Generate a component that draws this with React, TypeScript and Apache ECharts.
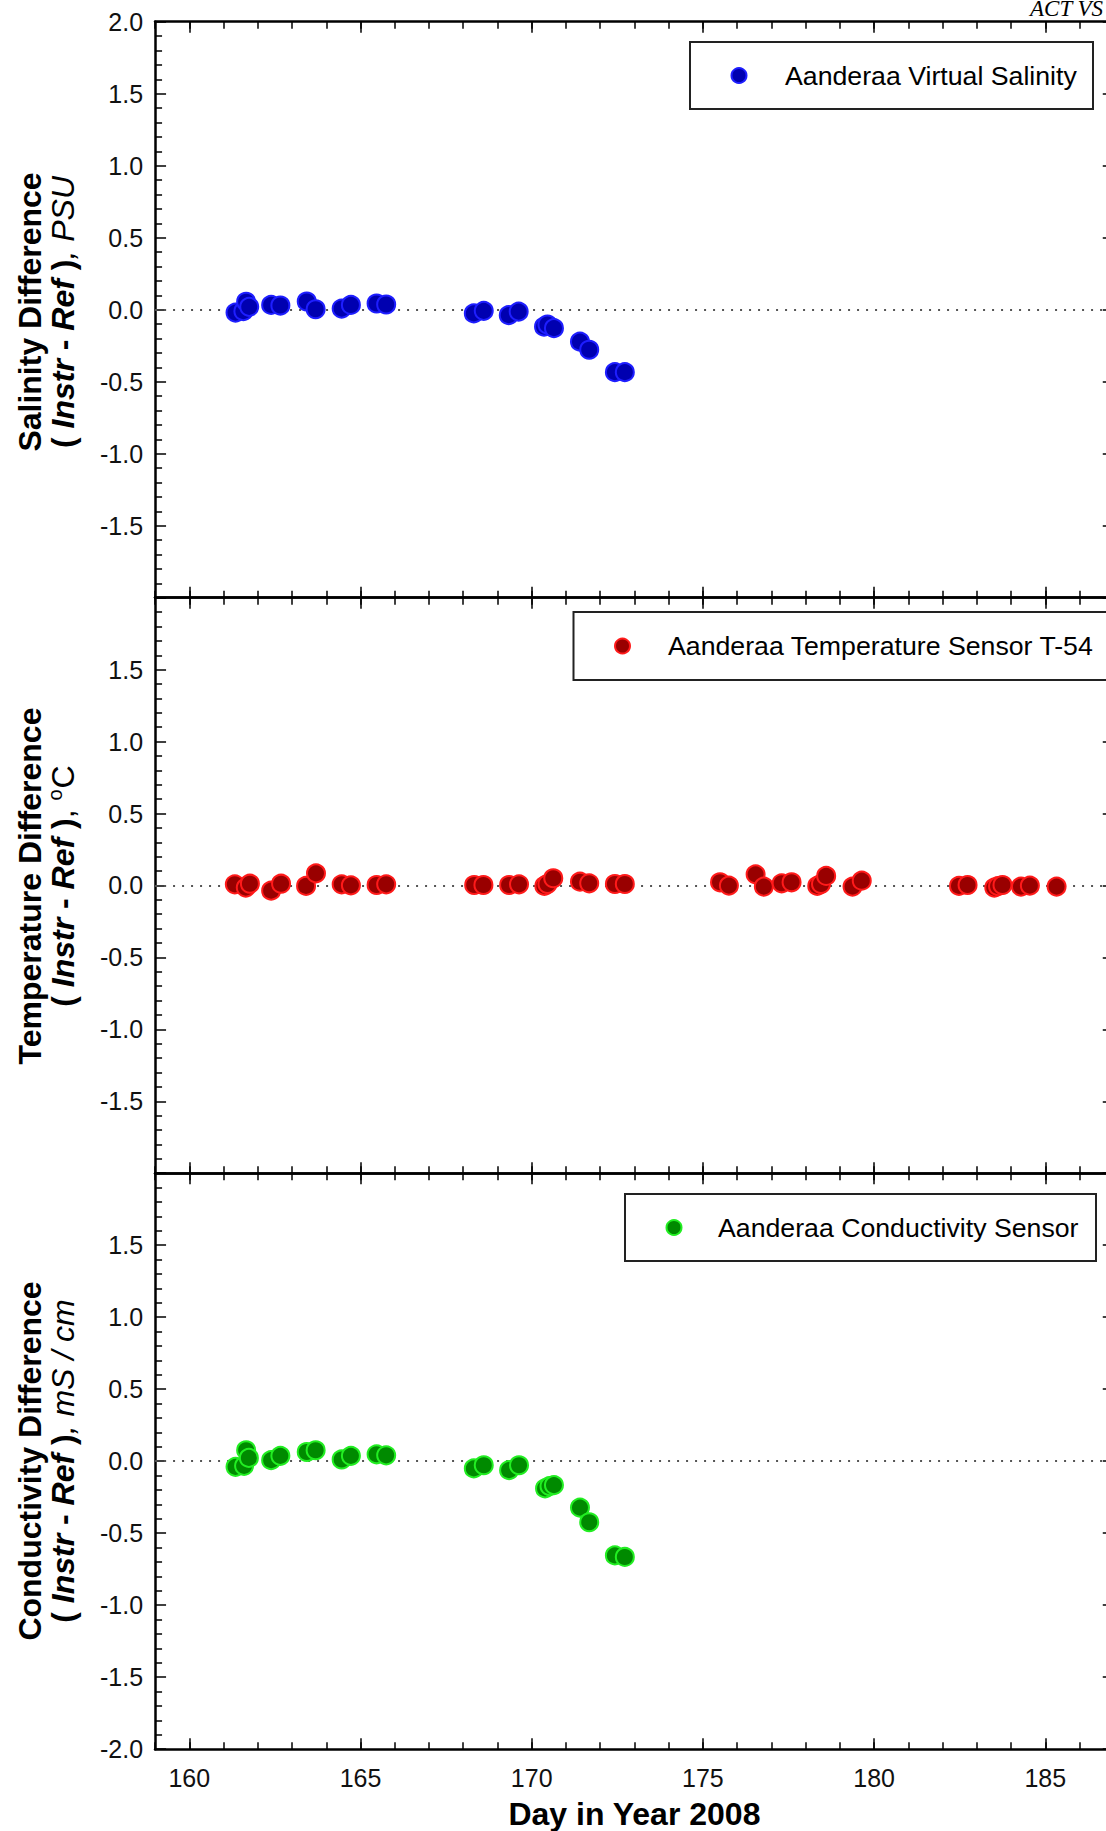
import React, { useEffect, useRef } from "react";
import * as echarts from "echarts";

// ---- data ----
const dayMin = 159;
const dayMax = 187;
const majorDays = [160, 165, 170, 175, 180, 185];
const yLabelsSal = [2.0, 1.5, 1.0, 0.5, 0.0, -0.5, -1.0, -1.5];
const yLabelsTemp = [1.5, 1.0, 0.5, 0.0, -0.5, -1.0, -1.5];
const yLabelsCond = [1.5, 1.0, 0.5, 0.0, -0.5, -1.0, -1.5, -2.0];

const salName = "Aanderaa Virtual Salinity";
const salDays = [161.35, 161.58, 161.66, 161.75, 162.39, 162.66, 163.43, 163.69, 164.45, 164.72, 165.47, 165.75, 168.31, 168.6, 169.33, 169.62, 170.36, 170.46, 170.65, 171.41, 171.68, 172.43, 172.72];
const salDiff = [-0.02, -0.01, 0.055, 0.02, 0.033, 0.029, 0.057, 0.003, 0.008, 0.033, 0.043, 0.036, -0.026, -0.008, -0.038, -0.013, -0.118, -0.103, -0.128, -0.222, -0.278, -0.434, -0.434];

const tempName = "Aanderaa Temperature Sensor T-54";
const tempDays = [161.33, 161.65, 161.77, 162.39, 162.68, 163.41, 163.7, 164.45, 164.72, 165.47, 165.75, 168.32, 168.59, 169.34, 169.63, 170.37, 170.46, 170.63, 171.41, 171.68, 172.43, 172.72, 175.5, 175.76, 176.54, 176.78, 177.3, 177.59, 178.34, 178.45, 178.6, 179.37, 179.64, 182.48, 182.73, 183.51, 183.62, 183.75, 184.29, 184.55, 185.33];
const tempDiff = [0.008, -0.015, 0.012, -0.036, 0.012, -0.003, 0.084, 0.008, 0.001, 0.003, 0.008, 0.003, 0.003, 0.003, 0.008, -0.003, 0.01, 0.05, 0.026, 0.015, 0.01, 0.01, 0.022, -0.001, 0.077, -0.008, 0.015, 0.022, -0.003, 0.01, 0.066, -0.008, 0.033, -0.003, 0.003, -0.015, -0.005, 0.003, -0.008, -0.001, -0.008];

const condName = "Aanderaa Conductivity Sensor";
const condDays = [161.35, 161.6, 161.66, 161.74, 162.39, 162.66, 163.43, 163.69, 164.45, 164.72, 165.47, 165.75, 168.31, 168.6, 169.34, 169.63, 170.39, 170.52, 170.65, 171.41, 171.68, 172.43, 172.72];
const condDiff = [-0.039, -0.032, 0.076, 0.023, 0.007, 0.037, 0.064, 0.076, 0.012, 0.037, 0.048, 0.041, -0.05, -0.028, -0.062, -0.028, -0.189, -0.173, -0.166, -0.322, -0.424, -0.654, -0.665];

const titleLine1 = ["Salinity Difference", "Temperature Difference", "Conductivity Difference"];
const titleLine2 = [
  "{p|( }{bi|Instr}{p| - }{bi|Ref}{p| )}{i|, PSU}",
  "{p|( }{bi|Instr}{p| - }{bi|Ref}{p| )}{r|, }{sup|o}{r|C}",
  "{p|( }{bi|Instr}{p| - }{bi|Ref}{p| )}{i|, mS / cm}",
];
const xName = "Day in Year 2008";
const cornerText = "ACT VS";

const FONT = "'Liberation Sans', Arial, sans-serif";

export default function App() {
  const ref = useRef<HTMLDivElement>(null);
  useEffect(() => {
    document.body.style.margin = "0";
    const chart = echarts.init(ref.current!, undefined, { renderer: "svg" });

    const gridTops = [21.7, 597.7, 1173.2];
    const gridHeights = [576, 575.5, 576];
    const gridLeft = 155.06;
    const gridWidth = 958.7;
    const centersY = [312, 886, 1461];

    const grids = gridTops.map((t, i) => ({
      left: gridLeft, top: t, width: gridWidth, height: gridHeights[i],
      containLabel: false, outerBoundsMode: "none",
    }));

    const tickLine = { color: "#000", width: 1.5 };
    const axisLine = { show: true, onZero: false, lineStyle: { color: "#000", width: 2.5 } };
    const xAxes: any[] = [];
    const yAxes: any[] = [];
    const yLabelSets = [yLabelsSal, yLabelsTemp, yLabelsCond];
    for (let g = 0; g < 3; g++) {
      for (const pos of ["bottom", "top"]) {
        xAxes.push({
          type: "value", gridIndex: g, position: pos, min: dayMin, max: dayMax, interval: 1,
          axisLine, axisTick: { show: true, inside: true, length: 7, lineStyle: tickLine },
          axisLabel: { show: false }, splitLine: { show: false },
        });
        const showLab = g === 2 && pos === "bottom";
        xAxes.push({
          type: "value", gridIndex: g, position: pos, min: dayMin, max: dayMax,
          axisLine: { show: false, onZero: false },
          axisTick: { show: true, inside: true, length: 11, lineStyle: tickLine, customValues: majorDays },
          axisLabel: showLab
            ? { show: true, customValues: majorDays, fontSize: 25, color: "#111", fontFamily: FONT, margin: 16 }
            : { show: false },
          splitLine: { show: false },
          name: showLab ? xName : undefined,
          nameLocation: "middle",
          nameGap: 49,
          nameTextStyle: { fontSize: 32, fontWeight: "bold", color: "#000", fontFamily: FONT },
        });
      }
      for (const pos of ["left", "right"]) {
        yAxes.push({
          type: "value", gridIndex: g, position: pos, min: -2, max: 2, interval: 0.5,
          axisLine,
          axisTick: { show: true, inside: true, length: 11, lineStyle: tickLine },
          minorTick: { show: true, splitNumber: 5, length: 7, lineStyle: tickLine },
          axisLabel: pos === "left"
            ? { show: true, customValues: yLabelSets[g], formatter: (v: number) => v.toFixed(1), fontSize: 25, color: "#111", fontFamily: FONT, margin: 12 }
            : { show: false },
          splitLine: { show: false },
          minorSplitLine: { show: false },
        });
      }
    }

    const zeroLine = {
      silent: true, symbol: ["none", "none"], z: 1,
      label: { show: false },
      lineStyle: { type: [2, 7], color: "#555", width: 2 },
      data: [{ yAxis: 0 }],
    };

    const styles = [
      { fill: "#0000b0", border: "#1e1eff" },
      { fill: "#990000", border: "#ff1a1a" },
      { fill: "#008a00", border: "#22ee22" },
    ];

    const mk = (name: string, days: number[], vals: number[], g: number) => ({
      type: "scatter", name, xAxisIndex: g * 4, yAxisIndex: g * 2, z: 3,
      symbol: "circle", symbolSize: 18,
      itemStyle: { color: styles[g].fill, borderColor: styles[g].border, borderWidth: 2, opacity: 1 },
      data: days.map((d, i) => [d, vals[i]]),
      markLine: zeroLine,
    });

    const rich = {
      p: { fontSize: 32, fontWeight: "bold", fontFamily: FONT, fill: "#000" },
      bi: { fontSize: 32, fontWeight: "bold", fontStyle: "italic", fontFamily: FONT, fill: "#000" },
      i: { fontSize: 32, fontStyle: "italic", fontFamily: FONT, fill: "#000" },
      r: { fontSize: 32, fontFamily: FONT, fill: "#000" },
      sup: { fontSize: 20, fontFamily: FONT, fill: "#000", padding: [0, 1, 16, 0] },
    };

    const graphics: any[] = [];
    for (let g = 0; g < 3; g++) {
      graphics.push({
        type: "text", x: 30, y: centersY[g], rotation: Math.PI / 2,
        style: { text: titleLine1[g], fontSize: 32, fontWeight: "bold", fontFamily: FONT, fill: "#000", align: "center", verticalAlign: "middle" },
      });
      graphics.push({
        type: "text", x: 63, y: centersY[g], rotation: Math.PI / 2,
        style: { text: titleLine2[g], rich, fontSize: 32, fontFamily: FONT, fill: "#000", align: "center", verticalAlign: "middle" },
      });
    }

    // legend boxes (drawn as graphics for exact placement)
    const legendBoxes = [
      { name: salName, x: 690, y: 42, w: 403, h: 67, mx: 739, tx: 785 },
      { name: tempName, x: 573.5, y: 612, w: 560, h: 68, mx: 622.5, tx: 668 },
      { name: condName, x: 625, y: 1194, w: 471, h: 67, mx: 674, tx: 718 },
    ];
    legendBoxes.forEach((b, g) => {
      const cy = b.y + b.h / 2;
      graphics.push({
        type: "rect", shape: { x: b.x, y: b.y, width: b.w, height: b.h },
        style: { fill: "#fff", stroke: "#222", lineWidth: 2 }, z: 10,
      });
      graphics.push({
        type: "circle", shape: { cx: b.mx, cy, r: 7.5 },
        style: { fill: styles[g].fill, stroke: styles[g].border, lineWidth: 2 }, z: 11,
      });
      graphics.push({
        type: "text", x: b.tx, y: cy, z: 11,
        style: { text: b.name, fontSize: 26.7, fontFamily: FONT, fill: "#000", verticalAlign: "middle", align: "left" },
      });
    });

    graphics.push({
      type: "text", x: 1030, y: 8,
      style: { text: cornerText, fontSize: 23, fontStyle: "italic", fontFamily: "'Liberation Serif', 'Times New Roman', serif", fill: "#000", verticalAlign: "middle" },
    });

    chart.setOption({
      animation: false,
      backgroundColor: "#fff",
      grid: grids,
      xAxis: xAxes,
      yAxis: yAxes,
      series: [
        mk(salName, salDays, salDiff, 0),
        mk(tempName, tempDays, tempDiff, 1),
        mk(condName, condDays, condDiff, 2),
      ],
      graphic: graphics,
    });
    return () => chart.dispose();
  }, []);
  return <div ref={ref} style={{ width: 1106, height: 1831 }} />;
}
